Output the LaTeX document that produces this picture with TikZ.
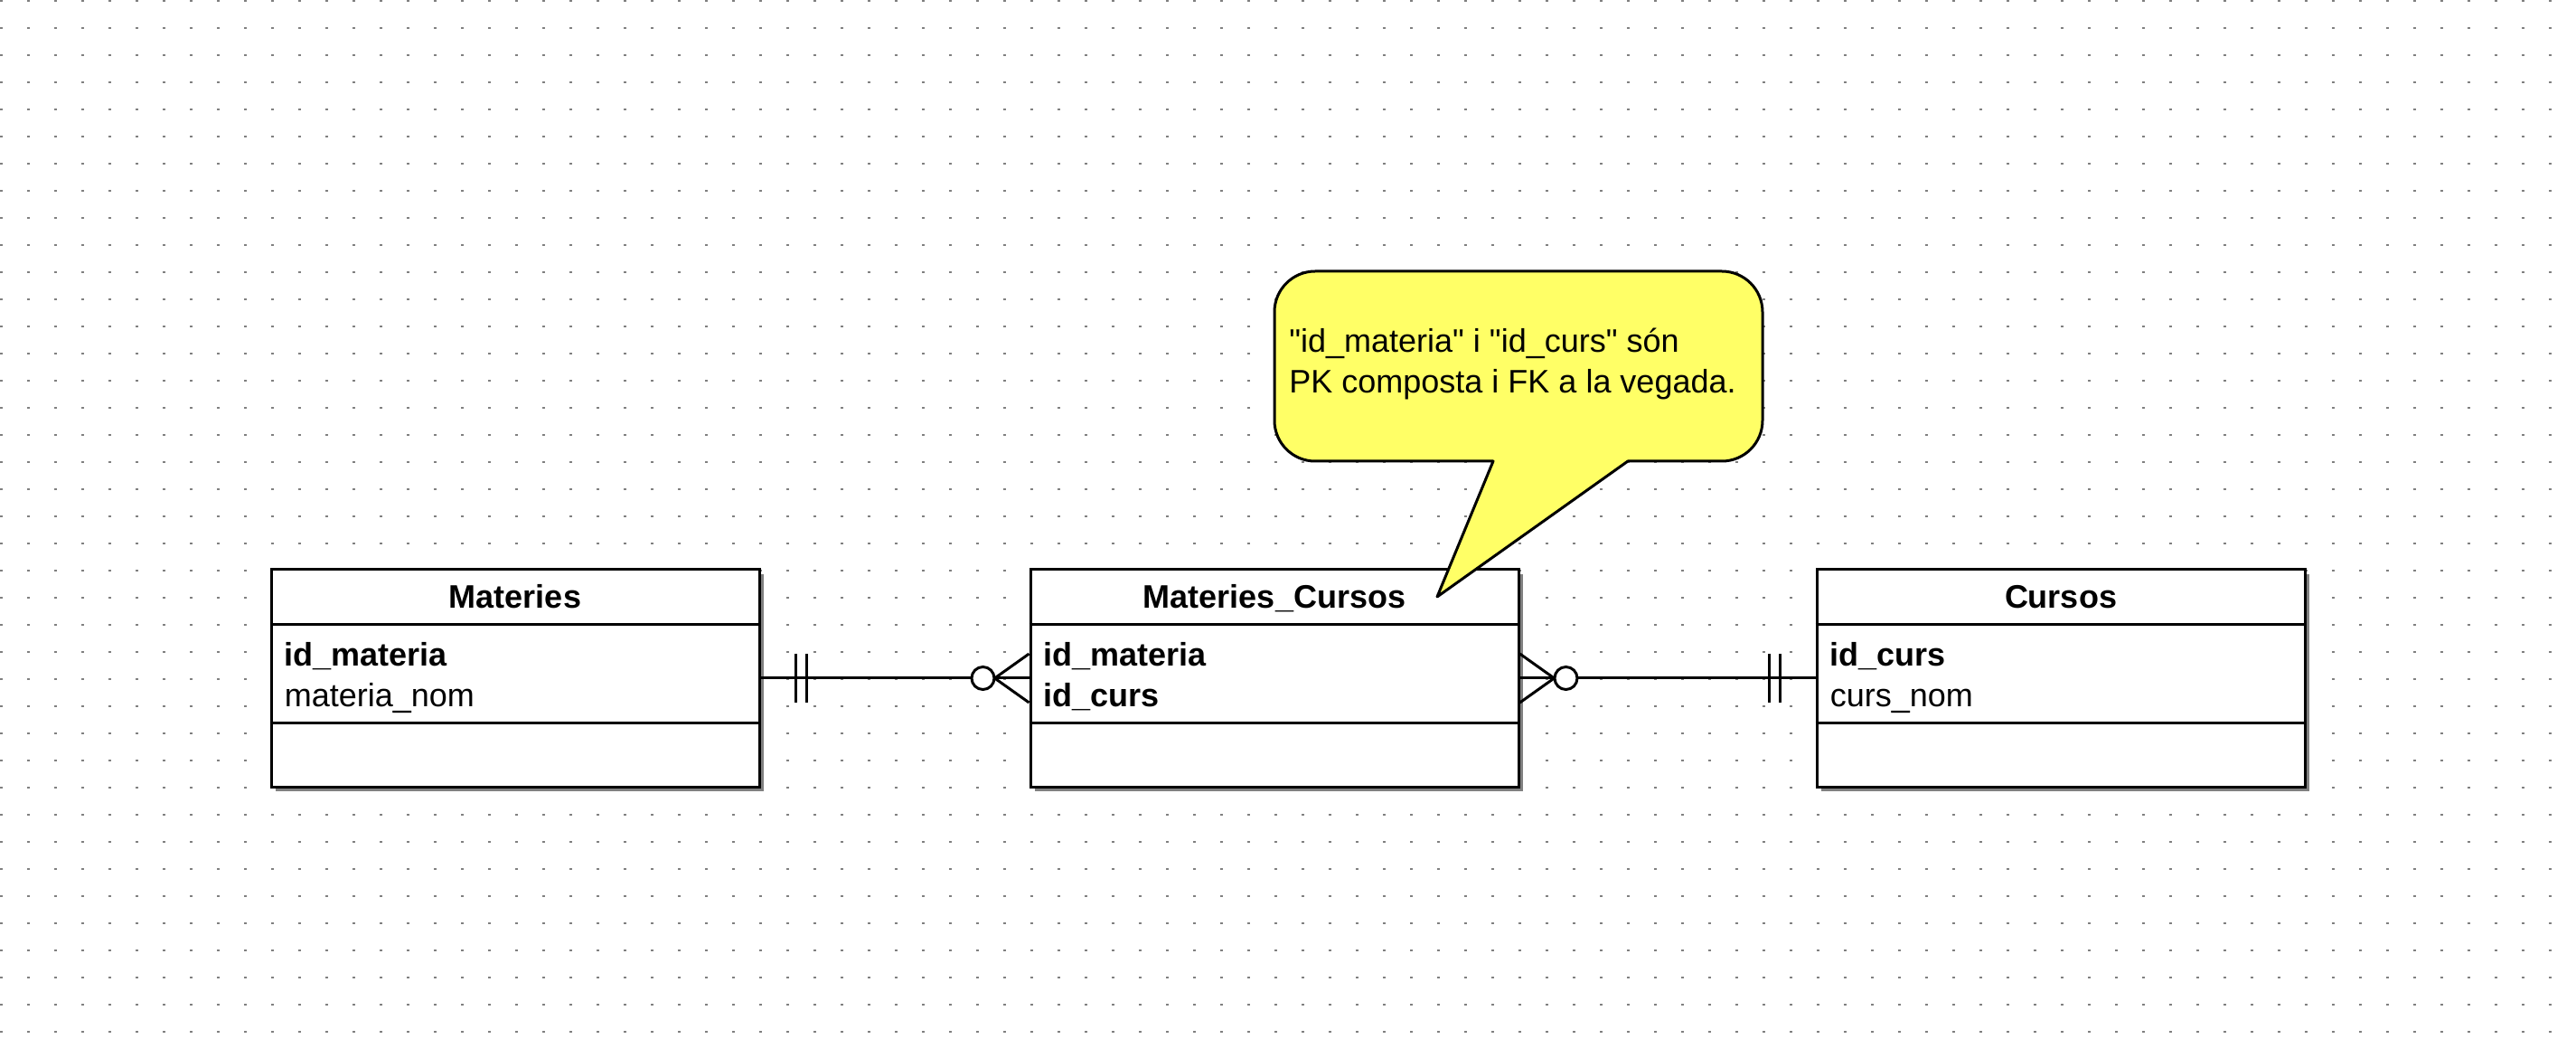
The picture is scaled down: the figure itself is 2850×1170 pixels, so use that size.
\documentclass[tikz,border=0pt]{standalone}
\usepackage{fontspec}
\setmainfont{Liberation Sans}[Ligatures=TeXOff]
\usetikzlibrary{shadows}
\definecolor{notagroc}{RGB}{255,255,102}
\definecolor{ombra}{RGB}{128,128,128}

\begin{document}
\begin{tikzpicture}[x=0.5pt,y=-0.5pt,
  font=\fontsize{18}{22.5}\selectfont,
  taula/.style={draw,line width=1.5pt,fill=white,minimum width=270pt,minimum height=120pt,
    drop shadow={shadow xshift=2.5pt,shadow yshift=-2.5pt,fill=ombra,opacity=1}},
  titol/.style={anchor=base,inner sep=0pt,font=\fontsize{18}{22.5}\selectfont\bfseries},
  camp/.style={anchor=base west,inner sep=0pt},
  vora/.style={line width=1.5pt},
  graella/.style={line width=1.25pt,ombra,dash pattern=on 1.25pt off 13.75pt},
  nota/.style={draw,line width=1.5pt,fill=notagroc,line join=round}]
  \fill[white] (0,0) rectangle (2850,1170);
  \useasboundingbox (0,0) rectangle (2850,1170);
  \foreach \gy in {1,31,...,1171}
    \draw[graella] (0,\gy) -- (2851,\gy);

  \node[taula] (materies) at (570,750) {};
  \node[taula] (matcursos) at (1410,750) {};
  \node[taula] (cursos) at (2280,750) {};
  \foreach \t in {materies,matcursos,cursos} {
    \draw[vora] ([yshift=-31pt]\t.north west) -- ([yshift=-31pt]\t.north east);
    \draw[vora] ([yshift=-85.5pt]\t.north west) -- ([yshift=-85.5pt]\t.north east);
  }

  \node[titol] (materies-nom) at ([yshift=-22pt]materies.north) {Materies};
  \node[camp] (materies-c1) at ([xshift=8pt,yshift=-54pt]materies.north west) {\textbf{id\_materia}};
  \node[camp] (materies-c2) at ([xshift=8pt,yshift=-76.5pt]materies.north west) {materia\_nom};

  \node[titol] (matcursos-nom) at ([yshift=-22pt]matcursos.north) {Materies\_Cursos};
  \node[camp] (matcursos-c1) at ([xshift=8pt,yshift=-54pt]matcursos.north west) {\textbf{id\_materia}};
  \node[camp] (matcursos-c2) at ([xshift=8pt,yshift=-76.5pt]matcursos.north west) {\textbf{id\_curs}};

  \node[titol] (cursos-nom) at ([yshift=-22pt]cursos.north) {Cursos};
  \node[camp] (cursos-c1) at ([xshift=8pt,yshift=-54pt]cursos.north west) {\textbf{id\_curs}};
  \node[camp] (cursos-c2) at ([xshift=8pt,yshift=-76.5pt]cursos.north west) {curs\_nom};

  \draw[vora] (materies) -- (matcursos);
  \draw[vora] (matcursos) -- (cursos);
  \foreach \dx in {19.5pt,25.5pt} {
    \draw[vora] ([xshift=\dx,yshift=13.5pt]materies.east) -- ([xshift=\dx,yshift=-13.5pt]materies.east);
    \draw[vora] ([xshift=-\dx,yshift=13.5pt]cursos.west) -- ([xshift=-\dx,yshift=-13.5pt]cursos.west);
  }
  \draw[vora] ([yshift=13.5pt]matcursos.west) -- ([xshift=-19pt]matcursos.west) -- ([yshift=-13.5pt]matcursos.west);
  \draw[vora] ([yshift=13.5pt]matcursos.east) -- ([xshift=19pt]matcursos.east) -- ([yshift=-13.5pt]matcursos.east);
  \draw[vora,fill=white] ([xshift=-25.5pt]matcursos.west) circle[radius=6.25pt];
  \draw[vora,fill=white] ([xshift=25.5pt]matcursos.east) circle[radius=6.25pt];

  \draw[nota] (1652,510) [rounded corners=22.5pt] -- (1410,510) -- (1410,300) -- (1950,300) -- (1950,510) [sharp corners] -- (1801,510) -- (1590,660) -- cycle;
  \node[camp] (nota-1) at (1426,390) {"id\_materia" i "id\_curs" són};
  \node[camp] (nota-2) at (1426,435) {PK composta i FK a la vegada.};
\end{tikzpicture}
\end{document}
